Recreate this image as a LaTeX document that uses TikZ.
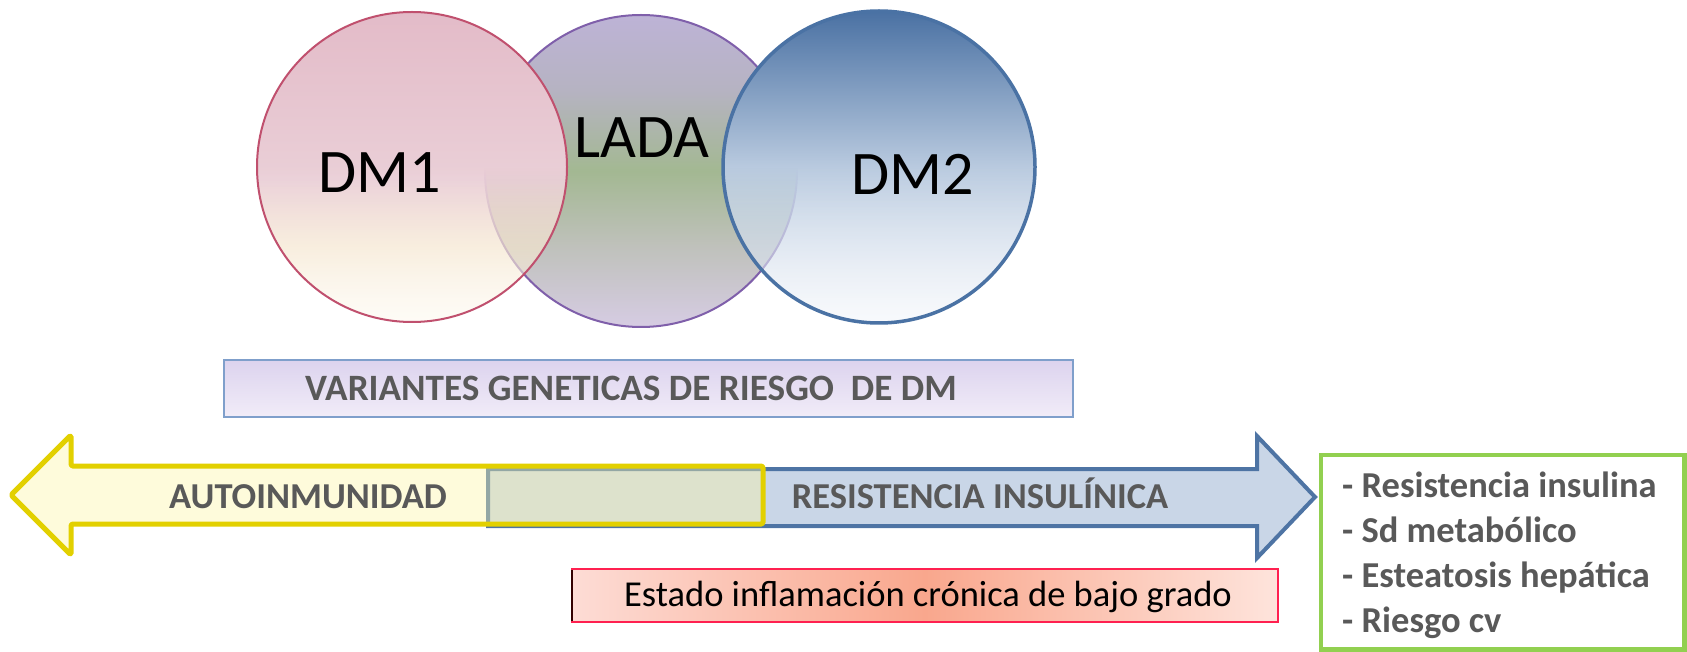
\documentclass[tikz,border=0pt]{standalone}
\usepackage{fontspec}
\setmainfont{Carlito}
\usetikzlibrary{fadings}
\definecolor{dmonetop}{HTML}{E3BBC8}
\definecolor{dmonemid}{HTML}{EACFD7}
\definecolor{dmonebeige}{HTML}{F5E6D0}
\definecolor{dmonebot}{HTML}{FCF7EA}
\definecolor{dmoneline}{HTML}{C0506E}
\definecolor{ladatop}{HTML}{BDB3D6}
\definecolor{ladagray}{HTML}{B6B3C2}
\definecolor{ladamid}{HTML}{A3B892}
\definecolor{ladalow}{HTML}{BFC1BB}
\definecolor{ladabot}{HTML}{D6CCE3}
\definecolor{ladaline}{HTML}{7F5FAA}
\definecolor{dmtwotop}{HTML}{4A71A3}
\definecolor{dmtwomid}{HTML}{B9CADF}
\definecolor{dmtwobot}{HTML}{EEF2F8}
\definecolor{dmtwoline}{HTML}{4A72A4}
\definecolor{vartop}{HTML}{DCD3EE}
\definecolor{varbot}{HTML}{F1ECF8}
\definecolor{varline}{HTML}{7F9FCB}
\definecolor{txtgray}{HTML}{595959}
\definecolor{yelline}{HTML}{E2D000}
\definecolor{yelfill}{HTML}{FCF5A5}
\definecolor{bluefill}{HTML}{C9D6E7}
\definecolor{blueline}{HTML}{4E74A4}
\definecolor{redline}{HTML}{FF2050}
\definecolor{redside}{HTML}{FDDCD5}
\definecolor{redmid}{HTML}{F9A78D}
\definecolor{redright}{HTML}{FEE4DC}
\definecolor{greenline}{HTML}{92D050}
\pgfdeclareverticalshading{dmoneshade}{100bp}{color(0bp)=(dmonebot); color(25bp)=(dmonebot); color(37bp)=(dmonebeige); color(48bp)=(dmonemid); color(75bp)=(dmonetop); color(100bp)=(dmonetop)}
\pgfdeclareverticalshading{ladashade}{100bp}{color(0bp)=(ladabot); color(25bp)=(ladabot); color(38bp)=(ladalow); color(50bp)=(ladamid); color(63bp)=(ladagray); color(75bp)=(ladatop); color(100bp)=(ladatop)}
\tikzfading[name=dmfade, top color=transparent!0, bottom color=transparent!60, middle color=transparent!0]
\tikzset{
  big/.style={inner sep=0pt, font=\fontsize{62}{70}\selectfont, text=black},
  boldlbl/.style={inner sep=0pt, font=\fontsize{36.5}{44}\selectfont\bfseries, text=txtgray},
  plainlbl/.style={inner sep=0pt, font=\fontsize{36.5}{44}\selectfont, text=black},
}
\begin{document}
\begin{tikzpicture}[x=1pt,y=-1pt]
\useasboundingbox (0,0) rectangle (1687,652);
% circles
\shade[shading=ladashade] (641,171) circle [radius=156];
\draw[ladaline, line width=2] (641,171) circle [radius=156];
\shade[shading=dmoneshade, path fading=dmfade] (412,167) circle [radius=155];
\draw[dmoneline, line width=2] (412,167) circle [radius=155];
\shade[top color=dmtwotop, bottom color=dmtwobot, middle color=dmtwomid, path fading=dmfade] (879,167) circle [radius=156];
\draw[dmtwoline, line width=3.5] (879,167) circle [radius=156];
\node[big, anchor=base] (dm1) at (380,193) {DM1};
\node[big, anchor=base] (lada) at (642,158) {LADA};
\node[big, anchor=base] (dm2) at (913,195) {DM2};
% variants box
\shade[top color=vartop, bottom color=varbot] (224,360) rectangle (1073,417);
\draw[varline, line width=2] (224,360) rectangle (1073,417);
\node[boldlbl, font=\fontsize{37.2}{44}\selectfont\bfseries, anchor=base] (var) at (631,400) {VARIANTES GENETICAS DE RIESGO\ \ DE DM};
% blue arrow
\draw[blueline, fill=bluefill, line width=4, line join=miter] (488,469) -- (1257,469) -- (1257,436) -- (1315,497) -- (1257,558) -- (1257,526) -- (488,526) -- cycle;
% yellow arrow
\fill[yelfill, fill opacity=0.4] (11,495) -- (71,435) -- (71,466) -- (763,466) -- (763,524) -- (71,524) -- (71,555) -- cycle;
\draw[yelline, line width=5, line join=round, rounded corners=1.5] (11,495) -- (71,435) -- (71,466) -- (763,466) -- (763,524) -- (71,524) -- (71,555) -- cycle;
\node[boldlbl, anchor=base] (auto) at (308,508) {AUTOINMUNIDAD};
\node[boldlbl, anchor=base] (resis) at (980,508.5) {RESISTENCIA INSULÍNICA};
% red box
\shade[left color=redside, right color=redright, middle color=redmid] (572,569) rectangle (1278,622);
\draw[redline, line width=2.5] (572,569) rectangle (1278,622);
\draw[black!80!red, line width=2] (572,570) -- (572,621);
\node[plainlbl, anchor=base] (infl) at (928,606) {Estado inflamación crónica de bajo grado};
% green box
\draw[greenline, line width=4.5, fill=white] (1321,455) rectangle (1684.5,649.5);
\node[boldlbl, anchor=base west] (l1) at (1342,497) {- Resistencia insulina};
\node[boldlbl, anchor=base west] (l2) at (1342,542) {- Sd metabólico};
\node[boldlbl, anchor=base west] (l3) at (1342,587) {- Esteatosis hepática};
\node[boldlbl, anchor=base west] (l4) at (1342,632) {- Riesgo cv};
\end{tikzpicture}
\end{document}
